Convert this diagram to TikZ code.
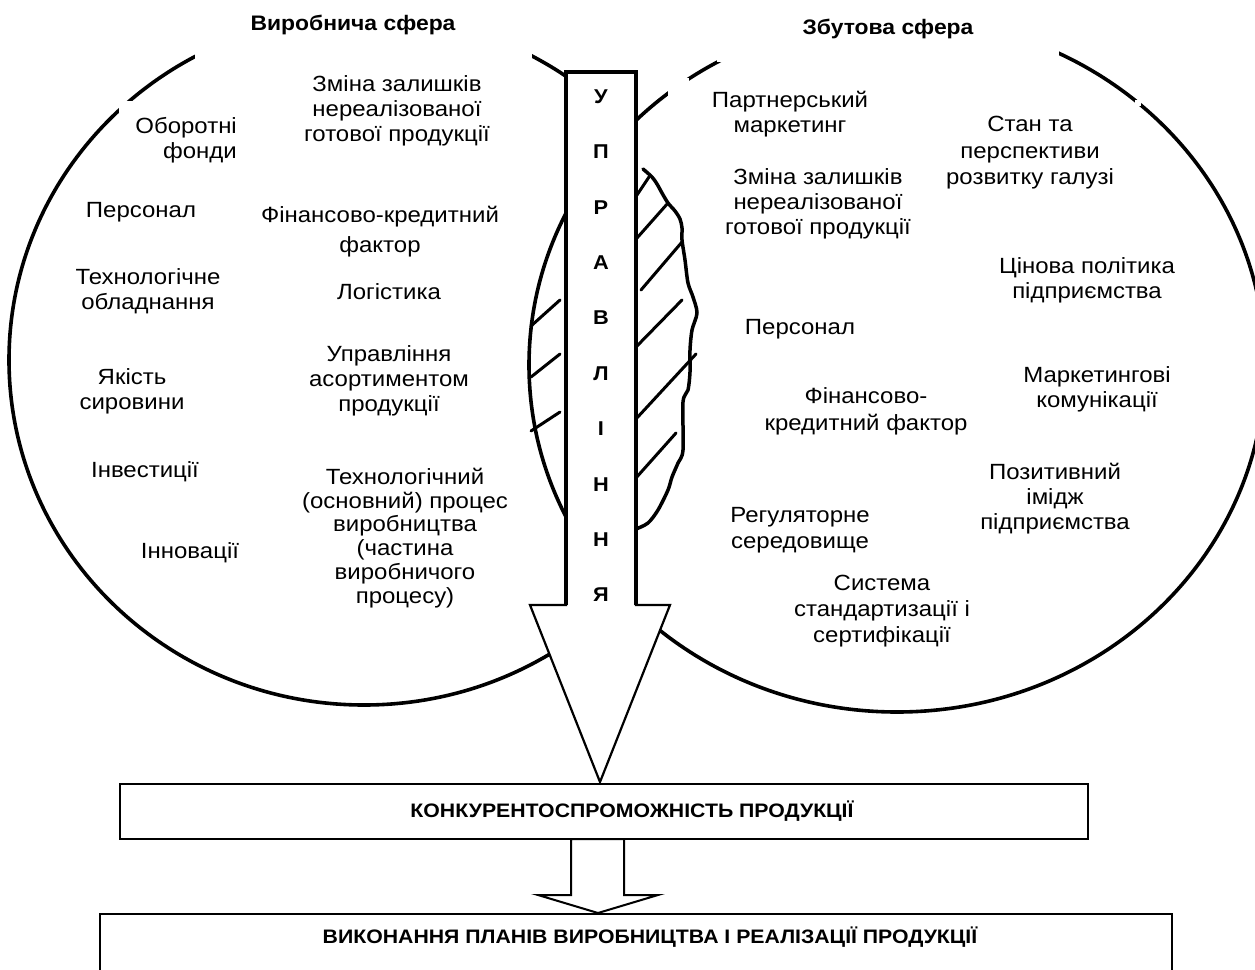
\documentclass[tikz,border=0pt]{standalone}
\usepackage{fontspec}
\setmainfont{Liberation Sans}[FakeStretch=1.09]
\begin{document}
\begin{tikzpicture}[x=1pt,y=-1pt,
  lbl/.style={font=\fontsize{22}{25}\selectfont, align=center, inner sep=0pt},
  ttl/.style={font=\fontsize{21}{25}\selectfont\bfseries, inner sep=0pt},
  vletter/.style={font=\fontsize{20}{22}\selectfont\bfseries, inner sep=0pt},
  boxtxt/.style={font=\fontsize{19.5}{22}\selectfont\bfseries, inner sep=0pt},
  sphere/.style={line width=3.6pt},
  hatch/.style={line width=3pt, line cap=round},
  frame/.style={line width=2.5pt}]
\useasboundingbox (0,0) rectangle (1255,969);
\clip (0,0) rectangle (1255,969);
% right sphere
\draw[sphere] (897,365) ellipse [x radius=368, y radius=347];
% left sphere (its right edge replaced by the hand-drawn line)
\begin{scope}
  \clip (-10,-10) rectangle (636,1000);
  \draw[sphere] (364,360) ellipse [x radius=355, y radius=345];
\end{scope}
% white gaps (text boxes of the original)
\fill[white] (195,-5) rectangle (532,60);
\fill[white] (119,101) rectangle (240,170);
\fill[white] (717,-5) rectangle (1059,62);
\fill[white] (668,78) rectangle (689,100);
\fill[white] (1135,100) rectangle (1141,106);
% hand-drawn right boundary of the overlap
\draw[line width=3.5pt, line join=round, line cap=round] plot[smooth, tension=0.5] coordinates {
  (643,169) (652,177) (657,184) (662,193) (668,203) (675,211) (680,219)
  (682,228) (682,240) (685,260) (688,283) (693,297) (697,313) (692,330)
  (690,350) (690,372) (688,390) (683,402) (683,450) (678,463) (672,477)
  (668,490) (658,510) (648,523) (636,529)};
% hatching
\draw[hatch] (531,326) -- (560,300);
\draw[hatch] (531,377) -- (560,354);
\draw[hatch] (531,431) -- (560,412);
\draw[hatch] (637,195) -- (649,177);
\draw[hatch] (637,238) -- (668,203);
\draw[hatch] (641,290) -- (682,242);
\draw[hatch] (635,348) -- (682,300);
\draw[hatch] (635,420) -- (696,354);
\draw[hatch] (635,479) -- (676,433);
% big arrow
\coordinate (tip) at (600,782);
\draw[line width=2.2pt, fill=white, line join=miter]
  (566,72) -- (636,72) -- (636,605) -- (670,605) -- (tip) -- (530,605) -- (566,605) -- cycle;
\draw[line width=3.2pt] (566,605) -- (566,72) -- (636,72) -- (636,605);
% letters
\foreach \ch/\yy [count=\i] in {У/97,П/152,Р/208,А/263,В/318,Л/374,І/429,Н/485,Н/540,Я/595}
  \node[vletter] (v\i) at (601,\yy) {\ch};
% boxes
\draw[frame] (120,784) rectangle (1088,839);
\draw[frame] (100,1000) -- (100,914) -- (1172,914) -- (1172,1000);
\draw[line width=2pt, fill=white, line join=miter]
  (571,839) -- (624,839) -- (624,895) -- (658,895) -- (598,913) -- (538,895) -- (571,895) -- cycle;
\node[boxtxt] (k1) at (632,811) {КОНКУРЕНТОСПРОМОЖНІСТЬ ПРОДУКЦІЇ};
\node[boxtxt] (k2) at (650,937) {ВИКОНАННЯ ПЛАНІВ ВИРОБНИЦТВА І РЕАЛІЗАЦІЇ ПРОДУКЦІЇ};
% titles
\node[ttl] (t1) at (353,25) {Виробнича сфера};
\node[ttl] (t2) at (888,29) {Збутова сфера};
% left texts
\node[lbl, align=right, anchor=east] (a1) at (237,140) {Оборотні\\фонди};
\node[lbl] (a2) at (141,212) {Персонал};
\node[lbl] (a3) at (148,291) {Технологічне\\обладнання};
\node[lbl] (a4) at (132,391) {Якість\\сировини};
\node[lbl] (a5) at (145,472) {Інвестиції};
\node[lbl] (a6) at (190,553) {Інновації};
\node[lbl] (a7) at (397,111) {Зміна залишків\\нереалізованої\\готової продукції};
\node[lbl, font=\fontsize{22}{30}\selectfont] (a8) at (380,232) {Фінансово-кредитний\\фактор};
\node[lbl] (a9) at (389,292) {Логістика};
\node[lbl] (a10) at (389,381) {Управління\\асортиментом\\продукції};
\node[lbl, font=\fontsize{22}{23.8}\selectfont] (a11) at (405,538) {Технологічний\\(основний) процес\\виробництва\\(частина\\виробничого\\процесу)};
% right texts
\node[lbl] (b1) at (790,114) {Партнерський\\маркетинг};
\node[lbl] (b2) at (818,204) {Зміна залишків\\нереалізованої\\готової продукції};
\node[lbl, font=\fontsize{22}{26.5}\selectfont] (b3) at (1030,153) {Стан та\\перспективи\\розвитку галузі};
\node[lbl] (b4) at (1087,280) {Цінова політика\\підприємства};
\node[lbl] (b5) at (800,329) {Персонал};
\node[lbl, font=\fontsize{22}{27}\selectfont] (b6) at (866,411) {Фінансово-\\кредитний фактор};
\node[lbl] (b7) at (1097,389) {Маркетингові\\комунікації};
\node[lbl] (b8) at (1055,499) {Позитивний\\імідж\\підприємства};
\node[lbl, font=\fontsize{22}{26}\selectfont] (b9) at (800,530) {Регуляторне\\середовище};
\node[lbl, font=\fontsize{22}{26}\selectfont] (b10) at (882,611) {Система\\стандартизації і\\сертифікації};
\end{tikzpicture}
\end{document}
